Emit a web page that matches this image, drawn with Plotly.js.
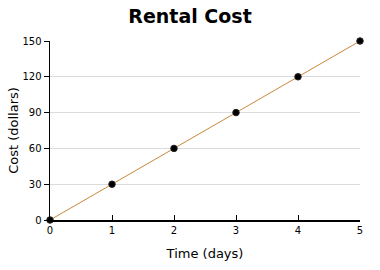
<!DOCTYPE html>
<html>
<head>
<meta charset="utf-8">
<script src="https://cdn.plot.ly/plotly-3.0.1.min.js"></script>
<style>html,body{margin:0;padding:0;background:#fff;}#chart{width:380px;height:270px;}</style>
</head>
<body>
<div id="chart"></div>
<script>
const days = [0, 1, 2, 3, 4, 5];
const cost = [0, 30, 60, 90, 120, 150];
const xTicks = [0, 1, 2, 3, 4, 5];
const yTicks = [0, 30, 60, 90, 120, 150];

const trace = {
  x: days, y: cost, type: 'scatter', mode: 'lines+markers',
  line: {color: '#c8883a', width: 1},
  marker: {color: '#000', size: 6.5, line: {color: '#222', width: 1}},
  cliponaxis: false, hoverinfo: 'none'
};
const layout = {
  width: 380, height: 270,
  margin: {l: 50, r: 20, t: 41, b: 50},
  paper_bgcolor: '#fff', plot_bgcolor: '#fff',
  showlegend: false,
  font: {family: 'DejaVu Sans, Verdana, sans-serif', color: '#000', size: 10},
  title: {text: '<b>Rental Cost</b>', x: 0.5, xanchor: 'center', y: 0.94, yanchor: 'middle', font: {size: 19, family: 'DejaVu Sans, Verdana, sans-serif'}},
  xaxis: {
    range: [0, 5], tickvals: xTicks, ticktext: xTicks.map(String),
    showline: true, linecolor: '#000', linewidth: 1.5,
    ticks: 'inside', ticklen: 5, tickcolor: '#000', tickwidth: 1,
    showgrid: false, zeroline: false,
    title: {text: 'Time (days)', font: {size: 13}, standoff: 14},
    tickfont: {size: 10}
  },
  yaxis: {
    range: [0, 150], tickvals: yTicks, ticktext: yTicks.map(String),
    showline: true, linecolor: '#000', linewidth: 1.5,
    ticks: 'outside', ticklen: 5, tickcolor: '#000', tickwidth: 1,
    showgrid: true, gridcolor: '#dcdcdc', gridwidth: 1, zeroline: false,
    title: {text: 'Cost (dollars)', font: {size: 13}, standoff: 1},
    tickfont: {size: 10}
  }
};
Plotly.newPlot('chart', [trace], layout, {displayModeBar: false, staticPlot: true});
</script>
</body>
</html>
